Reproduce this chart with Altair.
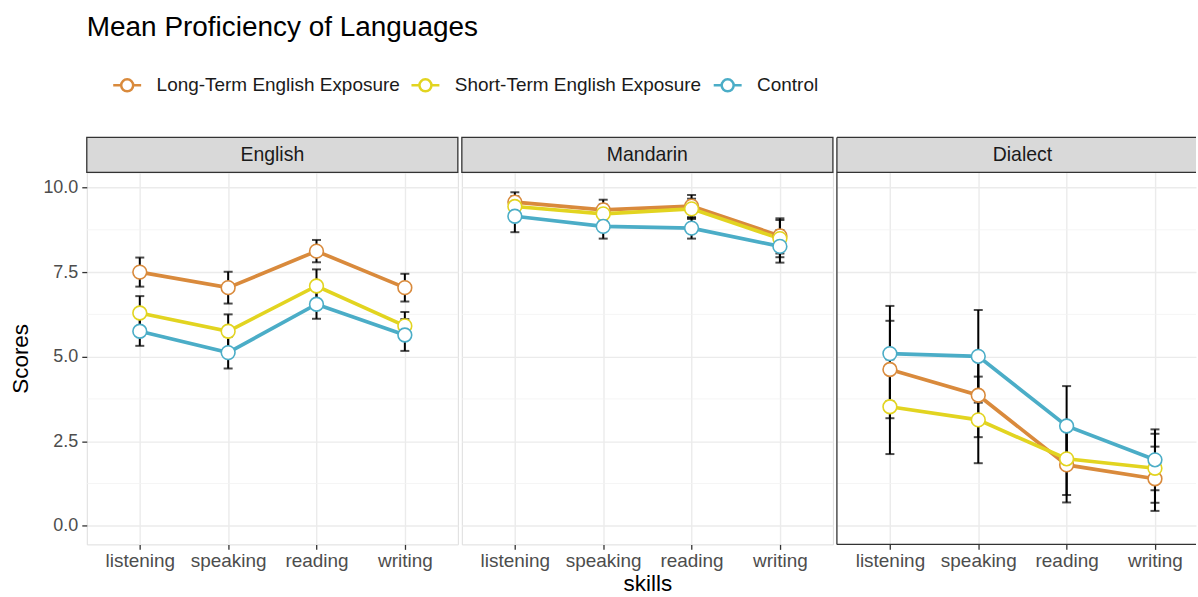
import altair as alt
import pandas as pd

skills = ["listening", "speaking", "reading", "writing"]
languages = ["English", "Mandarin", "Dialect"]
groups = ["Long-Term English Exposure", "Short-Term English Exposure", "Control"]

# means per language, per group (order of skills)
eng_long = [7.50, 7.04, 8.12, 7.04]
eng_short = [6.29, 5.75, 7.09, 5.91]
eng_ctrl = [5.75, 5.12, 6.55, 5.64]
man_long = [9.57, 9.34, 9.45, 8.57]
man_short = [9.44, 9.22, 9.37, 8.49]
man_ctrl = [9.15, 8.85, 8.80, 8.26]
dia_long = [4.62, 3.86, 1.80, 1.39]
dia_short = [3.52, 3.13, 1.98, 1.70]
dia_ctrl = [5.09, 5.01, 2.95, 1.95]

# standard errors
eng_long_se = [0.43, 0.47, 0.33, 0.41]
eng_short_se = [0.50, 0.50, 0.49, 0.41]
eng_ctrl_se = [0.43, 0.47, 0.43, 0.47]
man_long_se = [0.29, 0.30, 0.33, 0.52]
man_short_se = [0.30, 0.28, 0.30, 0.55]
man_ctrl_se = [0.47, 0.36, 0.31, 0.48]
dia_long_se = [1.44, 1.24, 1.11, 0.95]
dia_short_se = [1.40, 1.28, 1.07, 1.02]
dia_ctrl_se = [1.41, 1.37, 1.18, 0.90]

y_ticks = [0, 2.5, 5, 7.5, 10]
minor_grid = [1.25, 3.75, 6.25, 8.75]

means = {
    "English": [eng_long, eng_short, eng_ctrl],
    "Mandarin": [man_long, man_short, man_ctrl],
    "Dialect": [dia_long, dia_short, dia_ctrl],
}
ses = {
    "English": [eng_long_se, eng_short_se, eng_ctrl_se],
    "Mandarin": [man_long_se, man_short_se, man_ctrl_se],
    "Dialect": [dia_long_se, dia_short_se, dia_ctrl_se],
}

rows = []
for lang in languages:
    for gi, g in enumerate(groups):
        for si, s in enumerate(skills):
            m = means[lang][gi][si]
            e = ses[lang][gi][si]
            rows.append({"language": lang, "group": g, "skill": s,
                         "mean": m, "lo": m - e, "hi": m + e})
df = pd.DataFrame(rows)

FONT = "Liberation Sans"
colors = ["#D98A3C", "#E2D420", "#4BADC7"]
W, H = 372, 373
W_LAST = 360          # last panel is cut by the right edge of the picture
STRIP = 35
BORDER = "#333333"
PAD = 0.6
TXT = 19

# point-scale settings for the cut panel, so that its categories sit where
# they would in a full-width panel
n_sk = len(skills)
step = W / (n_sk - 1 + 2 * PAD)
pad_last = (W_LAST / step - (n_sk - 1)) / 2
align_last = (PAD * step) / (W_LAST - step * (n_sk - 1))

legend_path = ("M-1,0L-0.43,0M0.43,0L1,0"
               "M-0.43,0A0.43,0.43,0,1,1,0.43,0A0.43,0.43,0,1,1,-0.43,0Z")

yscale = alt.Scale(domain=[-0.55, 10.45], nice=False, zero=False)
color_scale = alt.Scale(domain=groups, range=colors)
legend = alt.Legend(title=None, orient="none", legendX=25, legendY=-103,
                    direction="horizontal", symbolType=legend_path,
                    symbolSize=784, symbolStrokeWidth=2.5,
                    symbolFillColor="white", labelFontSize=TXT,
                    labelFont=FONT, labelColor="#1a1a1a", labelOffset=14,
                    labelLimit=400, columnPadding=6)


def panel(lang, idx):
    d = df[df.language == lang]
    last = idx == len(languages) - 1
    pw = W_LAST if last else W
    xaxis = alt.Axis(title="skills" if idx == 1 else "", titleFontSize=22.5,
                     titleFont=FONT, titleColor="black", titleFontWeight="normal",
                     titlePadding=2, labelFontSize=TXT, labelFont=FONT,
                     labelColor="#4d4d4d", labelAngle=0, labelPadding=2,
                     tickColor=BORDER, tickSize=5, tickWidth=1.3,
                     domain=False, grid=True, gridColor="#ebebeb", gridWidth=1.4)
    if idx == 0:
        yaxis = alt.Axis(title="Scores", values=y_ticks, format=".1f",
                         titleFontSize=22.5, titleFont=FONT, titleColor="black",
                         titleFontWeight="normal", titlePadding=10,
                         labelFontSize=18, labelFont=FONT, labelColor="#4d4d4d",
                         labelPadding=4, tickColor=BORDER, tickSize=5,
                         tickWidth=1.3, domain=False, grid=True,
                         gridColor="#ebebeb", gridWidth=1.4)
    else:
        yaxis = alt.Axis(title="", values=y_ticks, labels=False, ticks=False,
                         domain=False, grid=True, gridColor="#ebebeb",
                         gridWidth=1.4)
    if last:
        xscale = alt.Scale(type="point", padding=pad_last, align=align_last)
    else:
        xscale = alt.Scale(type="point", padding=PAD)
    x = alt.X("skill:N", sort=skills, scale=xscale, axis=xaxis)

    minor = alt.Chart(pd.DataFrame({"v": minor_grid})).mark_rule(
        color="#f3f3f3", strokeWidth=0.8).encode(
        y=alt.Y("v:Q", scale=yscale, axis=yaxis))

    base = alt.Chart(d)
    color = alt.Color("group:N", scale=color_scale, sort=groups, legend=legend)
    lines = base.mark_line(strokeWidth=3.7).encode(
        x=x, y=alt.Y("mean:Q", scale=yscale, axis=yaxis), color=color)
    bars = base.mark_rule(color="black", strokeWidth=2).encode(
        x=x, y=alt.Y("lo:Q", scale=yscale, axis=yaxis), y2="hi:Q")
    cap_lo = base.mark_tick(color="black", thickness=2, size=9).encode(
        x=x, y=alt.Y("lo:Q", scale=yscale, axis=yaxis))
    cap_hi = base.mark_tick(color="black", thickness=2, size=9).encode(
        x=x, y=alt.Y("hi:Q", scale=yscale, axis=yaxis))
    pts = base.mark_point(shape="circle", filled=False, fill="white",
                          fillOpacity=1, opacity=1, size=190,
                          strokeWidth=1.6).encode(
        x=x, y=alt.Y("mean:Q", scale=yscale, axis=yaxis), color=color)

    strip_df = pd.DataFrame({"language": [lang]})
    layers = [minor, lines, bars, cap_lo, cap_hi, pts]
    if not last:
        strip = alt.Chart(strip_df).mark_rect(
            fill="#d9d9d9", stroke=BORDER, strokeWidth=1.3).encode(
            x=alt.value(0), x2=alt.value(pw), y=alt.value(-STRIP),
            y2=alt.value(0))
        layers.append(strip)
    else:
        strip = alt.Chart(strip_df).mark_rect(fill="#d9d9d9").encode(
            x=alt.value(0), x2=alt.value(pw), y=alt.value(-STRIP),
            y2=alt.value(0))
        top1 = alt.Chart(strip_df).mark_rule(color=BORDER, strokeWidth=1.3).encode(
            x=alt.value(0), x2=alt.value(pw), y=alt.value(-STRIP))
        top2 = alt.Chart(strip_df).mark_rule(color=BORDER, strokeWidth=1.3).encode(
            x=alt.value(0), x2=alt.value(pw), y=alt.value(0))
        bottom = alt.Chart(strip_df).mark_rule(color=BORDER, strokeWidth=1.3).encode(
            x=alt.value(0), x2=alt.value(pw), y=alt.value(H))
        left = alt.Chart(strip_df).mark_rule(color=BORDER, strokeWidth=1.3).encode(
            x=alt.value(0), y=alt.value(-STRIP), y2=alt.value(H))
        layers += [strip, top1, top2, bottom, left]
    strip_txt = alt.Chart(strip_df).mark_text(
        fontSize=19.5, font=FONT, color="#1a1a1a").encode(
        x=alt.value(W / 2), y=alt.value(-STRIP / 2), text="language:N")
    layers.append(strip_txt)

    ch = alt.layer(*layers).properties(width=pw, height=H)
    if last:
        ch = ch.properties(view=alt.ViewBackground(stroke="transparent"))
    return ch


chart = alt.hconcat(*[panel(l, i) for i, l in enumerate(languages)],
                    spacing=4, bounds="flush").properties(
    title=alt.TitleParams("Mean Proficiency of Languages", anchor="start",
                          fontSize=28, font=FONT, color="black",
                          fontWeight="normal", frame="group", offset=28),
    padding={"left": 9, "top": 13, "right": 0, "bottom": 0},
).configure_view(stroke=BORDER, strokeWidth=1.3).configure(
    background="white")

chart.save("out.html", embed_options={"renderer": "svg", "actions": False})
